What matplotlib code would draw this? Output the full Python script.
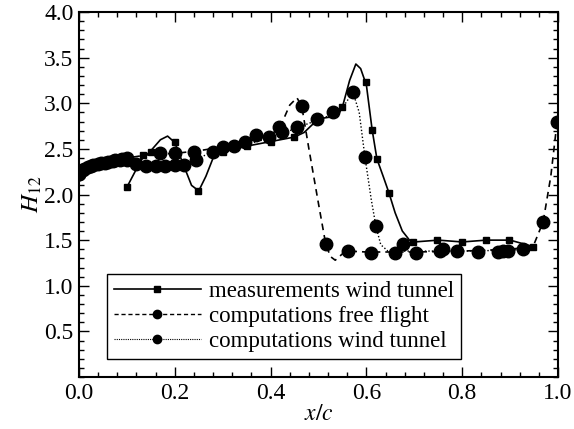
import matplotlib
matplotlib.use('Agg')
import matplotlib.pyplot as plt
from matplotlib.lines import Line2D
from matplotlib.ticker import MultipleLocator

plt.rcParams['font.family'] = ['Liberation Serif', 'DejaVu Serif']
plt.rcParams['mathtext.fontset'] = 'stix'

# measurements wind tunnel: curve and squares
meas_line_x = [0.10, 0.13, 0.15, 0.17, 0.185, 0.20, 0.22, 0.235, 0.25, 0.265, 0.28, 0.30,
               0.35, 0.40, 0.45, 0.47, 0.50, 0.54, 0.55, 0.565, 0.578, 0.588, 0.60, 0.612,
               0.622, 0.635, 0.647, 0.66, 0.675, 0.69, 0.70, 0.75, 0.80, 0.85, 0.90, 0.948]
meas_line_y = [2.08, 2.38, 2.48, 2.60, 2.64, 2.57, 2.30, 2.10, 2.04, 2.20, 2.40, 2.47,
               2.53, 2.58, 2.63, 2.68, 2.83, 2.86, 2.96, 3.25, 3.43, 3.38, 3.20, 2.71,
               2.39, 2.20, 2.02, 1.80, 1.60, 1.50, 1.48, 1.50, 1.48, 1.50, 1.50, 1.43]
meas_x = [0.10, 0.134, 0.15, 0.20, 0.248, 0.30, 0.35, 0.40, 0.449, 0.549, 0.599, 0.612,
          0.622, 0.647, 0.697, 0.747, 0.80, 0.85, 0.898, 0.948]
meas_y = [2.08, 2.43, 2.47, 2.57, 2.04, 2.47, 2.53, 2.58, 2.63, 2.96, 3.23, 2.71,
          2.39, 2.02, 1.48, 1.50, 1.48, 1.50, 1.50, 1.43]

# computations free flight: curve and circles
ff_line_x = [0.0, 0.01, 0.03, 0.05, 0.08, 0.10, 0.15, 0.20, 0.25, 0.30, 0.35, 0.40, 0.42,
             0.44, 0.455, 0.465, 0.48, 0.50, 0.515, 0.525, 0.535, 0.55, 0.562, 0.60, 0.70,
             0.80, 0.90, 0.948, 0.969, 0.985, 0.998]
ff_line_y = [2.22, 2.28, 2.32, 2.35, 2.38, 2.40, 2.44, 2.45, 2.48, 2.52, 2.58, 2.65, 2.74,
             2.98, 3.06, 2.97, 2.50, 1.90, 1.46, 1.32, 1.28, 1.35, 1.38, 1.37, 1.37,
             1.38, 1.40, 1.43, 1.70, 2.20, 2.79]
ff_x = [0.0, 0.008, 0.018, 0.03, 0.045, 0.06, 0.075, 0.09, 0.10, 0.17, 0.20, 0.24, 0.30,
        0.347, 0.37, 0.418, 0.465, 0.515, 0.562, 0.61, 0.66, 0.703, 0.754, 0.79, 0.833,
        0.896, 0.969, 0.998]
ff_y = [2.22, 2.27, 2.30, 2.32, 2.34, 2.36, 2.38, 2.39, 2.40, 2.45, 2.45, 2.47, 2.52,
        2.58, 2.65, 2.74, 2.97, 1.46, 1.38, 1.36, 1.36, 1.36, 1.38, 1.38, 1.37,
        1.38, 1.70, 2.79]

# computations wind tunnel: curve and circles
wt_line_x = [0.0, 0.01, 0.03, 0.05, 0.08, 0.10, 0.12, 0.15, 0.20, 0.23, 0.245, 0.27, 0.30,
             0.35, 0.40, 0.45, 0.50, 0.53, 0.55, 0.572, 0.585, 0.597, 0.61, 0.62, 0.63,
             0.645, 0.70, 0.80, 0.90, 0.93]
wt_line_y = [2.22, 2.28, 2.32, 2.35, 2.38, 2.38, 2.33, 2.32, 2.32, 2.33, 2.38, 2.45, 2.50,
             2.55, 2.62, 2.72, 2.82, 2.88, 2.95, 3.12, 2.90, 2.41, 1.95, 1.65, 1.45,
             1.38, 1.38, 1.38, 1.39, 1.40]
wt_x = [0.0, 0.01, 0.025, 0.04, 0.055, 0.07, 0.085, 0.10, 0.12, 0.14, 0.16, 0.18, 0.20,
        0.22, 0.245, 0.28, 0.323, 0.397, 0.423, 0.455, 0.497, 0.53, 0.572, 0.597, 0.62,
        0.677, 0.76, 0.875, 0.885, 0.927]
wt_y = [2.22, 2.28, 2.31, 2.33, 2.35, 2.37, 2.38, 2.38, 2.33, 2.31, 2.31, 2.31, 2.32,
        2.32, 2.38, 2.47, 2.53, 2.63, 2.68, 2.74, 2.83, 2.90, 3.12, 2.41, 1.65,
        1.46, 1.40, 1.37, 1.38, 1.40]

fig = plt.figure(figsize=(5.74, 4.29), dpi=100)
ax = fig.add_axes([0.1376, 0.1212, 0.8345, 0.8508])

ax.plot(wt_line_x, wt_line_y, color='black', lw=1.0, linestyle=(0, (1, 1.5)))
ax.plot(wt_x, wt_y, 'o', color='black', ms=9, linestyle='none')
ax.plot(ff_line_x, ff_line_y, color='black', lw=1.2, linestyle=(0, (4, 3)))
ax.plot(ff_x, ff_y, 'o', color='black', ms=9, linestyle='none')
ax.plot(meas_line_x, meas_line_y, color='black', lw=1.2, linestyle='-')
ax.plot(meas_x, meas_y, 's', color='black', ms=5, linestyle='none')

ax.set_xlim(0, 1.0)
ax.set_ylim(0, 4.0)
ax.xaxis.set_minor_locator(MultipleLocator(0.04))
ax.yaxis.set_minor_locator(MultipleLocator(0.1))
ax.set_xticks([0.0, 0.2, 0.4, 0.6, 0.8, 1.0])
ax.set_yticks([0.5, 1.0, 1.5, 2.0, 2.5, 3.0, 3.5, 4.0])
ax.tick_params(which='both', direction='in', top=True, right=True, labelsize=17, width=1)
ax.tick_params(which='major', length=7, pad=4)
ax.tick_params(which='minor', length=3.5)
for s in ax.spines.values():
    s.set_linewidth(1.5)

ax.set_xlabel('$x/c$', fontsize=17, labelpad=0)
ax.set_ylabel(r'$H_{\mathit{12}}$', fontsize=18, labelpad=0)

handles = [
    Line2D([], [], color='black', lw=1.2, linestyle='-', marker='s', ms=4),
    Line2D([], [], color='black', lw=1.0, linestyle=(0, (3, 2)), marker='o', ms=6),
    Line2D([], [], color='black', lw=0.8, linestyle=(0, (1, 1)), marker='o', ms=6),
]
labels = ['measurements wind tunnel', 'computations free flight', 'computations wind tunnel']
leg = ax.legend(handles, labels, loc='lower left', bbox_to_anchor=(0.058, 0.049),
                borderaxespad=0, fontsize=16.5, numpoints=1, handlelength=3.8,
                handletextpad=0.35, labelspacing=0.18, borderpad=0.3,
                fancybox=False, frameon=True)
leg.get_frame().set_edgecolor('black')
leg.get_frame().set_linewidth(1.0)
leg.get_frame().set_alpha(1)

fig.savefig('out.png', dpi=100)
